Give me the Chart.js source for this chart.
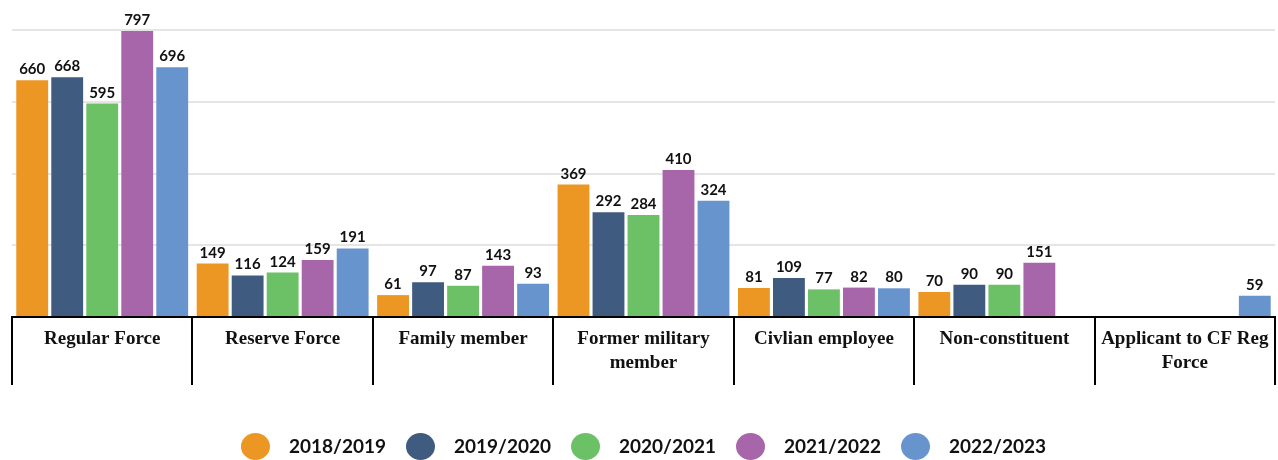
<!DOCTYPE html>
<html>
<head>
<meta charset="utf-8">
<script src="https://cdn.jsdelivr.net/npm/chart.js@4"></script>
<style>
  html, body { margin: 0; padding: 0; background: #fff; }
  #wrap { width: 1278px; height: 460px; }
</style>
</head>
<body>
<div id="wrap"><canvas id="grafico"></canvas></div>
<script>
const categorias = ['Regular Force', 'Reserve Force', 'Family member', ['Former military', 'member'],
    'Civlian employee', 'Non-constituent', ['Applicant to CF Reg', 'Force']];
const anos = ['2018/2019', '2019/2020', '2020/2021', '2021/2022', '2022/2023'];
const valores2018 = [660, 149, 61, 369, 81, 70, null];
const valores2019 = [668, 116, 97, 292, 109, 90, null];
const valores2020 = [595, 124, 87, 284, 77, 90, null];
const valores2021 = [797, 159, 143, 410, 82, 151, null];
const valores2022 = [696, 191, 93, 324, 80, null, 59];
const cores = ['#EC9624', '#405B80', '#6CC066', '#A866AA', '#6894CE'];

const series = [valores2018, valores2019, valores2020, valores2021, valores2022];

// rotulos em cima das barras
const rotulosBarras = {
    id: 'rotulosBarras',
    afterDatasetsDraw(chart) {
        const ctx = chart.ctx;
        ctx.save();
        ctx.font = 'bold 15px Lato';
        ctx.fillStyle = '#111';
        ctx.textAlign = 'center';
        ctx.textBaseline = 'alphabetic';
        chart.data.datasets.forEach((ds, i) => {
            const meta = chart.getDatasetMeta(i);
            meta.data.forEach((bar, j) => {
                const v = ds.data[j];
                if (v === null) return;
                ctx.fillText(v, bar.x, bar.y - 6);
            });
        });
        ctx.restore();
    }
};

const ctx = document.getElementById('grafico').getContext('2d');
const grafico = new Chart(ctx, {
    type: 'bar',
    data: {
        labels: categorias,
        datasets: anos.map((ano, i) => ({
            label: ano,
            data: series[i],
            backgroundColor: cores[i],
            borderWidth: 0,
            categoryPercentage: 0.97,
            barPercentage: 0.91
        }))
    },
    options: {
        responsive: true,
        maintainAspectRatio: false,
        animation: false,
        layout: {
            padding: { top: 30, left: 12, right: 3, bottom: -6 }
        },
        scales: {
            x: {
                grid: {
                    drawOnChartArea: false,
                    drawTicks: true,
                    tickLength: 68,
                    color: '#000',
                    lineWidth: 2
                },
                border: { display: true, color: '#000', width: 2 },
                ticks: {
                    padding: -58,
                    color: '#111',
                    maxRotation: 0,
                    autoSkip: false,
                    font: { family: 'Liberation Serif', size: 19, weight: 'bold', lineHeight: 1.25 }
                },
                afterFit(scale) {
                    scale.height = 100;
                }
            },
            y: {
                min: 0,
                max: 800,
                ticks: { display: false, stepSize: 200 },
                border: { display: false },
                grid: {
                    drawTicks: false,
                    lineWidth: 2,
                    color: (c) => c.tick && c.tick.value === 0 ? 'rgba(0,0,0,0)' : '#e5e5e5'
                }
            }
        },
        plugins: {
            tooltip: { enabled: false },
            legend: {
                position: 'bottom',
                labels: {
                    usePointStyle: true,
                    pointStyle: 'circle',
                    pointStyleWidth: 29,
                    padding: 20,
                    color: '#111',
                    font: { family: 'Lato', size: 19, weight: 'bold' },
                    generateLabels(chart) {
                        const itens = Chart.defaults.plugins.legend.labels.generateLabels(chart);
                        itens.forEach(item => { item.text = '\u2002' + item.text; });
                        return itens;
                    }
                }
            }
        }
    },
    plugins: [rotulosBarras]
});
</script>
</body>
</html>
